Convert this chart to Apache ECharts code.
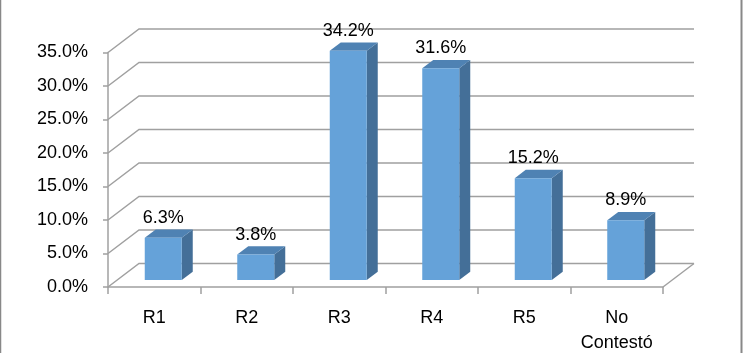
<!DOCTYPE html>
<html>
<head>
<meta charset="utf-8">
<script src="https://cdn.jsdelivr.net/npm/echarts@6/dist/echarts.min.js"></script>
<style>
html,body{margin:0;padding:0;background:#fff;}
#c{width:743px;height:353px;}
</style>
</head>
<body>
<div id="c"></div>
<script>
var categories = ['R1', 'R2', 'R3', 'R4', 'R5', 'No\nContestó'];
var values = [6.3, 3.8, 34.2, 31.6, 15.2, 8.9];
var yTicks = [0, 5, 10, 15, 20, 25, 30, 35];

var FONT = 'Liberation Sans';
var GRID_COLOR = '#a0a0a0';
var WALL = [31, -23.5];     // depth of the 3D box
var BAR_OFF = [9, -7];      // front face offset of bars
var BAR_DEPTH = [11, -8.3]; // depth of bars

var chart = echarts.init(document.getElementById('c'), null, {renderer: 'canvas'});

chart.setOption({
  animation: false,
  grid: {left: 108, right: 80, top: 52.5, bottom: 66, containLabel: false, outerBoundsMode: 'none'},
  xAxis: {
    type: 'category',
    data: categories,
    boundaryGap: true,
    axisLine: {show: true, lineStyle: {color: GRID_COLOR, width: 1.5}},
    axisTick: {show: true, length: 7, alignWithLabel: false, lineStyle: {color: GRID_COLOR, width: 1.5}},
    axisLabel: {interval: 0, color: '#000', fontFamily: FONT, fontSize: 18, margin: 19, lineHeight: 25}
  },
  yAxis: {
    type: 'value',
    min: 0, max: 35, interval: 5,
    axisLine: {show: true, lineStyle: {color: GRID_COLOR, width: 1.5}},
    axisTick: {show: true, length: 5, lineStyle: {color: GRID_COLOR, width: 1.5}},
    splitLine: {show: false},
    axisLabel: {color: '#000', fontFamily: FONT, fontSize: 18, margin: 20,
      formatter: function (v) { return v.toFixed(1) + '%'; }}
  },
  graphic: [
    {type: 'line', shape: {x1: 0.5, y1: 0, x2: 0.5, y2: 353}, style: {stroke: '#888', lineWidth: 1.5}, silent: true},
    {type: 'line', shape: {x1: 741.5, y1: 0, x2: 741.5, y2: 353}, style: {stroke: '#888', lineWidth: 2}, silent: true}
  ],
  series: [
    {
      type: 'custom',
      z: 1,
      silent: true,
      data: yTicks.map(function (t) { return [0, t]; }),
      renderItem: function (params, api) {
        var v = api.value(1);
        var cs = params.coordSys;
        var y = api.coord([0, v])[1];
        var x0 = cs.x, x1 = cs.x + cs.width;
        var children = [{
          type: 'polyline',
          shape: {points: [[x0, y], [x0 + WALL[0], y + WALL[1]], [x1 + WALL[0], y + WALL[1]]]},
          style: {stroke: GRID_COLOR, lineWidth: 1.5, fill: null}
        }];
        if (v === 0) {
          children.push({
            type: 'line',
            shape: {x1: x1, y1: y, x2: x1 + WALL[0], y2: y + WALL[1]},
            style: {stroke: GRID_COLOR, lineWidth: 1.5}
          });
        }
        return {type: 'group', children: children};
      }
    },
    {
      type: 'custom',
      z: 3,
      data: values.map(function (v, i) { return [i, v]; }),
      renderItem: function (params, api) {
        var i = api.value(0), v = api.value(1);
        var p = api.coord([i, v]);
        var p0 = api.coord([i, 0]);
        var bw = api.size([1, 0])[0];
        var w = bw * 0.4;
        var cx = p[0] + BAR_OFF[0];
        var xl = cx - w / 2, xr = cx + w / 2;
        var yt = p[1] + BAR_OFF[1], yb = p0[1] + BAR_OFF[1];
        var dx = BAR_DEPTH[0], dy = BAR_DEPTH[1];
        return {
          type: 'group',
          children: [
            {type: 'polygon', shape: {points: [[xr, yt], [xr + dx, yt + dy], [xr + dx, yb + dy], [xr, yb]]},
              style: {fill: '#446F98'}},
            {type: 'polygon', shape: {points: [[xl, yt], [xl + dx, yt + dy], [xr + dx, yt + dy], [xr, yt]]},
              style: {fill: '#4F82B3'}},
            {type: 'rect', shape: {x: xl, y: yt, width: w, height: yb - yt},
              style: {fill: '#65A2D9'}},
            {type: 'text', x: cx, y: yt - 20,
              style: {text: v.toFixed(1) + '%', fill: '#000', font: '18px "' + FONT + '"',
                align: 'center', verticalAlign: 'middle'}}
          ]
        };
      }
    }
  ]
});
</script>
</body>
</html>
